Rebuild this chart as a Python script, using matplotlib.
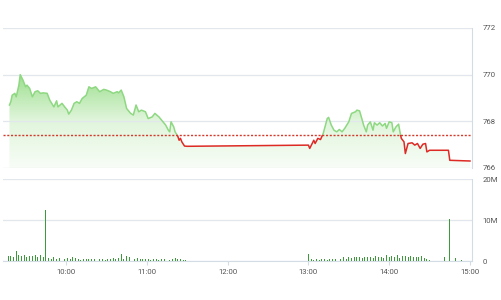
import numpy as np
import matplotlib
matplotlib.use("Agg")
import matplotlib.pyplot as plt
from matplotlib.colors import LinearSegmentedColormap
from matplotlib.patches import Rectangle

plt.rcParams["font.family"] = ["Roboto", "DejaVu Sans"]

# price trace (time, index level)
price_times = [
    "09:18", "09:19", "09:20", "09:22", "09:23", "09:25", "09:26", "09:28", "09:30", "09:31",
    "09:33", "09:35", "09:37", "09:39", "09:41", "09:43", "09:46", "09:48", "09:51", "09:53",
    "09:54", "09:57", "09:59", "10:01", "10:02", "10:04", "10:06", "10:08", "10:10", "10:12",
    "10:15", "10:17", "10:19", "10:22", "10:23", "10:25", "10:28", "10:30", "10:33", "10:35",
    "10:38", "10:39", "10:41", "10:43", "10:45", "10:48", "10:50", "10:52", "10:54", "10:56",
    "10:59", "11:01", "11:04", "11:06", "11:09", "11:11", "11:14", "11:16", "11:17", "11:18",
    "11:20", "11:21", "11:23", "11:24", "11:25", "11:26", "11:28", "11:30",
    "13:00", "13:01", "13:04", "13:05", "13:07", "13:09", "13:11", "13:14", "13:15", "13:17",
    "13:19", "13:21", "13:23", "13:25", "13:27", "13:30", "13:32", "13:35", "13:36", "13:38",
    "13:40", "13:41", "13:43", "13:44", "13:46", "13:48", "13:49", "13:51", "13:53", "13:55",
    "13:57", "13:58", "14:00", "14:02", "14:03", "14:05", "14:07", "14:08", "14:09", "14:11",
    "14:12", "14:14", "14:17", "14:19", "14:21", "14:23", "14:25", "14:27", "14:28", "14:30",
    "14:44", "14:45", "15:00",
]
price_vals = [
    768.70, 768.84, 769.12, 769.20, 769.05, 769.55, 770.00, 769.77, 769.48, 769.55,
    769.41, 769.05, 769.27, 769.31, 769.20, 769.22, 769.20, 768.90, 768.62, 768.88,
    768.62, 768.77, 768.62, 768.48, 768.31, 768.48, 768.77, 768.84, 768.77, 768.98,
    769.12, 769.48, 769.41, 769.48, 769.41, 769.27, 769.37, 769.34, 769.27, 769.20,
    769.27, 769.22, 769.34, 769.05, 768.55, 768.34, 768.27, 768.70, 768.41, 768.48,
    768.41, 768.12, 768.19, 768.34, 768.19, 768.05, 767.84, 767.62, 767.55, 767.98,
    767.76, 767.55, 767.36, 767.19, 767.27, 767.12, 766.94, 766.93,
    766.98, 766.84, 767.19, 767.05, 767.27, 767.22, 767.48, 768.12, 768.17, 767.84,
    767.62, 767.55, 767.65, 767.55, 767.70, 767.98, 768.34, 768.41, 768.48, 768.45,
    768.05, 767.84, 767.55, 767.84, 767.98, 767.62, 767.94, 767.84, 767.94, 767.80,
    767.91, 767.70, 767.98, 767.94, 767.55, 767.76, 767.88, 767.55, 767.27, 767.12,
    766.62, 767.05, 767.08, 766.98, 767.05, 766.84, 767.02, 767.05, 766.69, 766.76,
    766.76, 766.33, 766.30,
]
ref_price = 767.42

# volume (millions), one bar every 2 minutes in each session
vol_am_start, vol_pm_start = "09:17", "13:00"
vol_am = [
    1.2, 1.3, 1.0, 2.4, 1.4, 1.2, 1.5, 1.0, 1.3, 1.2, 1.4, 1.0, 1.5, 1.1, 12.6,
    0.8, 0.6, 1.0, 0.5, 0.7, 0.9, 0.6, 0.8, 0.5, 0.9, 0.7, 0.4, 0.3, 0.4, 0.5,
    0.4, 0.6, 0.5, 0.7, 0.4, 0.5, 0.3, 0.6, 0.4, 0.7, 0.5, 0.8, 1.6, 0.6, 1.2,
    1.0, 0.9, 0.6, 0.7, 0.5, 0.6, 0.4, 0.5, 0.3, 0.5, 0.4, 0.3, 0.5, 0.4, 0.6,
    0.3, 0.5, 0.7, 0.4, 0.6, 0.3, 0.2,
]
vol_pm = [
    1.7, 0.4, 0.3, 0.4, 0.3, 0.5, 0.4, 0.3, 0.6, 0.4, 0.5, 0.7, 0.5, 0.9, 0.6,
    1.0, 0.8, 1.1, 0.9, 1.0, 0.8, 1.1, 0.9, 1.0, 0.7, 1.2, 0.9, 1.1, 0.8, 1.4,
    0.9, 1.3, 1.0, 1.5, 0.8, 1.2, 1.3, 1.0, 1.2, 0.9, 1.1, 1.0, 1.2, 0.8, 0.6, 0.3,
]
vol_late_times = ["14:41", "14:45", "14:49", "14:54"]
vol_late = [1.0, 10.2, 0.8, 0.3]

hour_ticks = ["10:00", "11:00", "12:00", "13:00", "14:00", "15:00"]

GRID, FRAME, TXT = "#e2e7ed", "#d3dbe4", "#555555"
GREEN_LINE, RED_LINE, BAR = "#8ed882", "#dd2a25", "#3c9a3a"


def mins(s):  # minutes after 09:00
    h, m = s.split(":")
    return (int(h) - 9) * 60 + int(m)


t = np.array([mins(s) for s in price_times], float)
p = np.array(price_vals)
xmin, xmax = 13.2, 361.5
ymin, ymax = 766, 772

fig = plt.figure(figsize=(5.01, 3.0), dpi=100)
ax1 = fig.add_axes([3 / 501, 132 / 300, 469 / 501, 140 / 300])
ax2 = fig.add_axes([3 / 501, 39 / 300, 469 / 501, 81.7 / 300])

# --- price panel
cmap = LinearSegmentedColormap.from_list("g", ["#f8fdf7", "#e0f5db", "#9ade8b"])
grad = np.linspace(0, 1, 256).reshape(-1, 1)
poly = ax1.fill_between(t, p, ymin, facecolor="none", edgecolor="none")
img = ax1.imshow(grad, cmap=cmap, origin="lower", aspect="auto",
                 extent=[xmin, xmax, ymin, 770.1], zorder=1)
img.set_clip_path(poly.get_paths()[0], transform=ax1.transData)

g_line, = ax1.plot(t, p, color=GREEN_LINE, lw=1.1, zorder=3)
r_line, = ax1.plot(t, p, color=RED_LINE, lw=1.1, zorder=3)
g_line.set_clip_path(Rectangle((xmin, ref_price), xmax - xmin, 10, transform=ax1.transData))
r_line.set_clip_path(Rectangle((xmin, ymin - 5), xmax - xmin, ref_price - ymin + 5,
                               transform=ax1.transData))
ax1.axhline(ref_price, color="#d33a2c", lw=1.0, ls=(0, (1.5, 1.2)), zorder=4)

ax1.set_xlim(xmin, xmax); ax1.set_ylim(ymin, ymax)
ax1.set_yticks([766, 768, 770, 772])
ax1.yaxis.tick_right()
ax1.tick_params(axis="y", length=0, pad=7.5, labelsize=5.6, labelcolor=TXT)
ax1.set_xticks([])
ax1.grid(axis="y", color=GRID, lw=0.9)
for s in ("top", "left", "bottom"):
    ax1.spines[s].set_visible(False)
ax1.spines["right"].set_color(FRAME)

# --- volume panel
am_t = [mins(vol_am_start) + 2 * i for i in range(len(vol_am))]
pm_t = [mins(vol_pm_start) + 2 * i for i in range(len(vol_pm))]
late_t = [mins(s) for s in vol_late_times]
ax2.bar(am_t + pm_t + late_t, vol_am + vol_pm + vol_late, width=0.7, color=BAR, zorder=3)
ax2.set_xlim(xmin, xmax); ax2.set_ylim(0, 20)
ax2.set_yticks([0, 10, 20]); ax2.set_yticklabels(["0", "10M", "20M"])
ax2.yaxis.tick_right()
ax2.tick_params(axis="y", length=0, pad=7.5, labelsize=5.6, labelcolor=TXT)
ax2.set_xticks([mins(s) for s in hour_ticks]); ax2.set_xticklabels(hour_ticks)
ax2.tick_params(axis="x", length=3, color=FRAME, labelsize=5.6, labelcolor=TXT, pad=3)
ax2.grid(axis="y", color=GRID, lw=0.9)
ax2.spines["top"].set_visible(False); ax2.spines["left"].set_visible(False)
ax2.spines["right"].set_color(FRAME); ax2.spines["bottom"].set_color(FRAME)

fig.savefig("out.png", dpi=100)
